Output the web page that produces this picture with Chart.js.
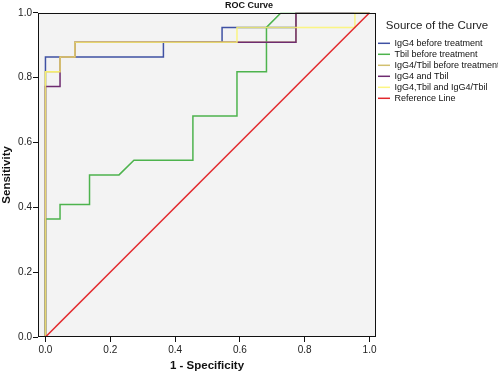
<!DOCTYPE html>
<html>
<head>
<meta charset="utf-8">
<title>ROC Curve</title>
<script src="https://cdn.jsdelivr.net/npm/chart.js@4.4.1/dist/chart.umd.min.js"></script>
<style>
  html, body { margin: 0; padding: 0; background: #fff; }
</style>
</head>
<body>
<canvas id="rocChart" width="498" height="375"></canvas>
<script>
const nombres = [
  "IgG4 before treatment",
  "Tbil before treatment",
  "IgG4/Tbil before treatment",
  "IgG4 and Tbil",
  "IgG4,Tbil and IgG4/Tbil",
  "Reference Line",
];

const igg4X = [0, 0, 0.364, 0.364, 0.545, 0.545, 0.773, 0.773, 1];
const igg4Y = [0, 0.864, 0.864, 0.909, 0.909, 0.955, 0.955, 1, 1];

const tbilX = [0, 0, 0.045, 0.045, 0.136, 0.136, 0.227, 0.273, 0.455, 0.455, 0.591, 0.591, 0.682, 0.682, 0.727, 1];
const tbilY = [0, 0.364, 0.364, 0.409, 0.409, 0.5, 0.5, 0.545, 0.545, 0.682, 0.682, 0.818, 0.818, 0.955, 1, 1];

const ratioX = [0, 0, 0.045, 0.045, 0.091, 0.091, 0.773, 0.773, 1];
const ratioY = [0, 0.818, 0.818, 0.864, 0.864, 0.909, 0.909, 1, 1];

const ambosX = [0, 0, 0.045, 0.045, 0.091, 0.091, 0.773, 0.773, 1];
const ambosY = [0, 0.773, 0.773, 0.864, 0.864, 0.909, 0.909, 1, 1];

const todosX = [0, 0, 0.045, 0.045, 0.091, 0.091, 0.591, 0.591, 0.955, 0.955, 1];
const todosY = [0, 0.818, 0.818, 0.864, 0.864, 0.909, 0.909, 0.955, 0.955, 1, 1];

const refX = [0, 1];
const refY = [0, 1];

const ticksEje = [0, 0.2, 0.4, 0.6, 0.8, 1.0];

const fuente = "Arial, 'Liberation Sans', sans-serif";

// Construir una serie para el gráfico
function serie(label, xs, ys, color, orden, grosor) {
  return {
    label: label,
    data: xs.map((x, i) => ({ x: x, y: ys[i] })),
    borderColor: color,
    backgroundColor: color,
    borderWidth: grosor,
    showLine: true,
    fill: false,
    tension: 0,
    pointRadius: 0,
    pointHoverRadius: 0,
    order: orden,
  };
}

// Fondo gris y marco del área del gráfico
const marcoGrafico = {
  id: "marcoGrafico",
  beforeDraw(chart) {
    const { ctx, chartArea: a } = chart;
    ctx.save();
    ctx.fillStyle = "#f3f3f3";
    ctx.fillRect(a.left, a.top, a.right - a.left, a.bottom - a.top);
    ctx.restore();
  },
  afterDatasetsDraw(chart) {
    const { ctx, chartArea: a } = chart;
    ctx.save();
    ctx.strokeStyle = "#111";
    ctx.lineWidth = 1;
    ctx.strokeRect(
      Math.round(a.left) + 0.5,
      Math.round(a.top) + 0.5,
      Math.round(a.right - a.left) - 1,
      Math.round(a.bottom - a.top) - 1
    );
    ctx.restore();
  },
};

new Chart(document.getElementById("rocChart"), {
  type: "scatter",
  data: {
    datasets: [
      serie(nombres[0], igg4X, igg4Y, "#3f51a3", 5, 1.5),
      serie(nombres[1], tbilX, tbilY, "#4db34d", 4, 1.5),
      serie(nombres[2], ratioX, ratioY, "#d2c070", 3, 1.5),
      serie(nombres[3], ambosX, ambosY, "#6e2b70", 2, 1.5),
      serie(nombres[4], todosX, todosY, "rgba(252, 244, 110, 0.85)", 1, 1.5),
      serie(nombres[5], refX, refY, "#e2282c", 0, 1.5),
    ],
  },
  options: {
    responsive: false,
    animation: false,
    layout: { padding: 0 },
    plugins: {
      tooltip: { enabled: false },
      title: {
        display: true,
        text: "ROC Curve",
        color: "#111",
        font: { family: fuente, size: 9, weight: "bold" },
        padding: { top: 0, bottom: 2 },
      },
      legend: {
        position: "right",
        align: "start",
        maxWidth: 122,
        title: {
          display: true,
          text: "Source of the Curve",
          color: "#222",
          font: { family: fuente, size: 11.5 },
          padding: { top: 20, bottom: 3 },
        },
        labels: {
          usePointStyle: true,
          pointStyle: "line",
          pointStyleWidth: 12,
          padding: 2,
          color: "#111",
          font: { family: fuente, size: 9 },
          sort: (a, b) => a.datasetIndex - b.datasetIndex,
        },
      },
    },
    scales: {
      x: {
        type: "linear",
        min: -0.023,
        max: 1.02,
        afterBuildTicks: (scale) => {
          scale.ticks = ticksEje.map((v) => ({ value: v }));
        },
        afterFit: (scale) => {
          scale.height = 38;
        },
        border: { display: false },
        grid: {
          drawOnChartArea: false,
          drawTicks: true,
          tickLength: 5,
          tickColor: "#111",
        },
        ticks: {
          color: "#222",
          padding: 2,
          maxRotation: 0,
          font: { family: fuente, size: 10 },
          callback: (v) => Number(v).toFixed(1),
        },
        title: {
          display: true,
          text: "1 - Specificity",
          color: "#111",
          font: { family: fuente, size: 11.5, weight: "bold" },
          padding: { top: 0, bottom: 2 },
        },
      },
      y: {
        type: "linear",
        min: 0,
        max: 1,
        afterBuildTicks: (scale) => {
          scale.ticks = ticksEje.map((v) => ({ value: v }));
        },
        afterFit: (scale) => {
          scale.width = 38;
        },
        border: { display: false },
        grid: {
          drawOnChartArea: false,
          drawTicks: true,
          tickLength: 5,
          tickColor: "#111",
        },
        ticks: {
          color: "#222",
          padding: 1,
          font: { family: fuente, size: 10 },
          callback: (v) => Number(v).toFixed(1),
        },
        title: {
          display: true,
          text: "Sensitivity",
          color: "#111",
          font: { family: fuente, size: 11.5, weight: "bold" },
          padding: { top: 0, bottom: 0 },
        },
      },
    },
  },
  plugins: [marcoGrafico],
});
</script>
</body>
</html>
